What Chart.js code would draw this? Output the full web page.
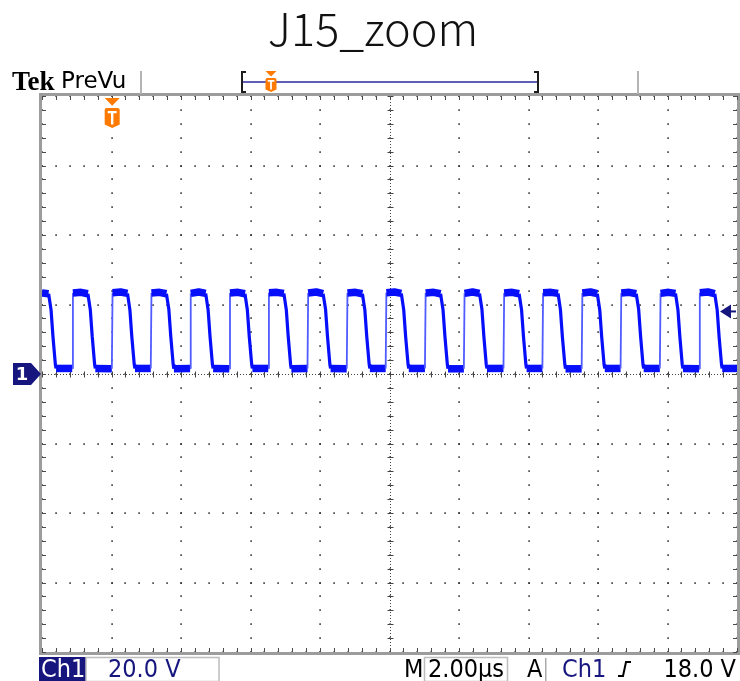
<!DOCTYPE html>
<html>
<head>
<meta charset="utf-8">
<title>J15_zoom</title>
<script src="https://cdn.jsdelivr.net/npm/chart.js@4/dist/chart.umd.min.js"></script>
<style>
  html, body { margin: 0; padding: 0; background: #fff; }
  #scope { display: block; }
</style>
</head>
<body>
<canvas id="scope" width="740" height="681"></canvas>
<script>

// graticule: 10 x 2.00us, 8 x 20.0V
let xTicks = [0, 2, 4, 6, 8, 10, 12, 14, 16, 18, 20];
let yTicks = [-80, -60, -40, -20, 0, 20, 40, 60, 80];

let voltsPerDiv = 20.0;
let timePerDiv = 2.00;
let triggerLevel = 18.0;
let triggerTime = 2.02;

// trace vertices (us / V)
let traceTime = [
  0.00, 0.19, 0.26, 0.315, 0.385, 0.405,
  0.87, 0.89, 1.12, 1.32, 1.39, 1.445, 1.515, 1.535,
  2.01, 2.03, 2.26, 2.46, 2.53, 2.585, 2.655, 2.675,
  3.13, 3.15, 3.38, 3.58, 3.65, 3.705, 3.775, 3.795,
  4.26, 4.28, 4.51, 4.71, 4.78, 4.835, 4.905, 4.925,
  5.39, 5.41, 5.64, 5.84, 5.91, 5.965, 6.035, 6.055,
  6.51, 6.53, 6.76, 6.96, 7.03, 7.085, 7.155, 7.175,
  7.64, 7.66, 7.89, 8.09, 8.16, 8.215, 8.285, 8.305,
  8.77, 8.79, 9.02, 9.22, 9.29, 9.345, 9.415, 9.435,
  9.89, 9.91, 10.14, 10.34, 10.41, 10.465, 10.535, 10.555,
  11.02, 11.04, 11.27, 11.47, 11.54, 11.595, 11.665, 11.685,
  12.14, 12.16, 12.39, 12.59, 12.66, 12.715, 12.785, 12.805,
  13.28, 13.30, 13.53, 13.73, 13.80, 13.855, 13.925, 13.945,
  14.40, 14.42, 14.65, 14.85, 14.92, 14.975, 15.045, 15.065,
  15.53, 15.55, 15.78, 15.98, 16.05, 16.105, 16.175, 16.195,
  16.65, 16.67, 16.90, 17.10, 17.17, 17.225, 17.295, 17.315,
  17.78, 17.80, 18.03, 18.23, 18.30, 18.355, 18.425, 18.445,
  18.91, 18.93, 19.16, 19.36, 19.43, 19.485, 19.555, 19.575,
  20.00
];
let traceVolt = [
  23.3, 23.1, 18.5, 10.8, 2.7, 1.6,
  1.6, 23.3, 23.5, 23.1, 18.5, 10.8, 2.7, 1.6,
  1.5, 23.4, 23.6, 23.2, 18.4, 10.7, 2.7, 1.6,
  1.6, 23.3, 23.5, 23.1, 18.6, 10.9, 2.8, 1.5,
  1.6, 23.2, 23.6, 23.2, 18.5, 10.8, 2.7, 1.6,
  1.5, 23.3, 23.5, 23.1, 18.4, 10.7, 2.7, 1.6,
  1.6, 23.4, 23.5, 23.2, 18.5, 10.8, 2.6, 1.5,
  1.6, 23.3, 23.6, 23.1, 18.6, 10.9, 2.7, 1.6,
  1.5, 23.3, 23.5, 23.1, 18.5, 10.8, 2.8, 1.6,
  1.6, 23.4, 23.6, 23.2, 18.4, 10.7, 2.7, 1.6,
  1.6, 23.3, 23.5, 23.1, 18.5, 10.8, 2.7, 1.5,
  1.5, 23.2, 23.6, 23.2, 18.6, 10.9, 2.6, 1.6,
  1.6, 23.3, 23.5, 23.1, 18.5, 10.8, 2.7, 1.6,
  1.6, 23.4, 23.5, 23.2, 18.4, 10.7, 2.8, 1.5,
  1.5, 23.3, 23.6, 23.1, 18.5, 10.8, 2.7, 1.6,
  1.6, 23.3, 23.5, 23.1, 18.6, 10.9, 2.7, 1.6,
  1.6, 23.2, 23.5, 23.2, 18.5, 10.8, 2.6, 1.6,
  1.5, 23.4, 23.6, 23.1, 18.4, 10.7, 2.7, 1.6,
  1.6
];

// colours
let traceBlue = 'rgb(6,14,250)';
let edgeBlue = 'rgb(80,92,255)';
let navy = '#16167e';
let tekOrange = '#ff7a00';
let narrowFont = '"Liberation Sans Narrow", "DejaVu Sans Condensed", sans-serif';

let tracePoints = traceTime.map((t, i) => ({ x: t, y: traceVolt[i] }));

// ** Helpers

function slopeOf(ctx) {
  let dx = Math.abs(ctx.p1.x - ctx.p0.x) || 0.01;
  return Math.abs(ctx.p1.y - ctx.p0.y) / dx;
}

function tMarker(c, cx, top, w, h) {
  // little orange trigger flag: triangle + shield with a T
  c.fillStyle = tekOrange;
  c.beginPath();
  c.moveTo(cx - w / 2, top);
  c.lineTo(cx + w / 2, top);
  c.lineTo(cx, top + h * 0.26);
  c.closePath();
  c.fill();
  let sTop = top + h * 0.33;
  let sBot = top + h;
  c.beginPath();
  c.moveTo(cx - w / 2, sTop + 2);
  c.quadraticCurveTo(cx - w / 2, sTop, cx - w / 2 + 2, sTop);
  c.lineTo(cx + w / 2 - 2, sTop);
  c.quadraticCurveTo(cx + w / 2, sTop, cx + w / 2, sTop + 2);
  c.lineTo(cx + w / 2, sBot - h * 0.12);
  c.lineTo(cx, sBot);
  c.lineTo(cx - w / 2, sBot - h * 0.12);
  c.closePath();
  c.fill();
  c.strokeStyle = '#fff';
  c.lineWidth = Math.max(1.6, w * 0.16);
  c.beginPath();
  c.moveTo(cx - w * 0.3, sTop + h * 0.14);
  c.lineTo(cx + w * 0.3, sTop + h * 0.14);
  c.moveTo(cx, sTop + h * 0.14);
  c.lineTo(cx, sBot - h * 0.12);
  c.stroke();
}

let scopeDecor = {
  id: 'scopeDecor',
  beforeDatasetsDraw(chart) {
    let c = chart.ctx;
    let a = chart.chartArea;
    let xs = chart.scales.x;
    let ys = chart.scales.y;
    let minorX = timePerDiv / 5;
    let minorY = voltsPerDiv / 5;
    c.save();

    // dotted major lines
    c.fillStyle = '#333';
    xTicks.forEach(xv => {
      let px = Math.round(xs.getPixelForValue(xv));
      for (let yv = yTicks[0]; yv <= yTicks[yTicks.length - 1] + 0.01; yv += minorY) {
        c.fillRect(px - 0.7, Math.round(ys.getPixelForValue(yv)) - 0.7, 1.6, 1.6);
      }
    });
    yTicks.forEach(yv => {
      let py = Math.round(ys.getPixelForValue(yv));
      for (let xv = xTicks[0]; xv <= xTicks[xTicks.length - 1] + 0.01; xv += minorX) {
        c.fillRect(Math.round(xs.getPixelForValue(xv)) - 0.7, py - 0.7, 1.6, 1.6);
      }
    });

    // centre cross with ticks
    let cx = Math.round(xs.getPixelForValue(10)) + 0.5;
    let cy = Math.round(ys.getPixelForValue(0)) + 0.5;
    c.strokeStyle = '#444';
    c.lineWidth = 1;
    c.setLineDash([1, 2]);
    c.beginPath();
    c.moveTo(cx, a.top); c.lineTo(cx, a.bottom);
    c.moveTo(a.left, cy); c.lineTo(a.right, cy);
    c.stroke();
    c.setLineDash([]);
    c.strokeStyle = '#444';
    c.beginPath();
    for (let yv = -80; yv <= 80.01; yv += minorY) {
      let py = Math.round(ys.getPixelForValue(yv)) + 0.5;
      c.moveTo(cx - 3, py); c.lineTo(cx + 3, py);
    }
    for (let xv = 0; xv <= 20.01; xv += minorX) {
      let px = Math.round(xs.getPixelForValue(xv)) + 0.5;
      c.moveTo(px, cy - 3); c.lineTo(px, cy + 3);
    }
    c.stroke();

    // frame with inner ticks
    c.strokeStyle = '#9c9c9c';
    c.lineWidth = 3;
    c.strokeRect(a.left - 1.5, a.top - 1.5, a.right - a.left + 3, a.bottom - a.top + 3);
    c.strokeStyle = '#4a4a4a';
    c.lineWidth = 1;
    c.beginPath();
    for (let xv = 0; xv <= 20.01; xv += minorX) {
      let px = Math.round(xs.getPixelForValue(xv)) + 0.5;
      c.moveTo(px, a.top); c.lineTo(px, a.top + 4);
      c.moveTo(px, a.bottom); c.lineTo(px, a.bottom - 4);
    }
    for (let yv = -80; yv <= 80.01; yv += minorY) {
      let py = Math.round(ys.getPixelForValue(yv)) + 0.5;
      c.moveTo(a.left, py); c.lineTo(a.left + 4, py);
      c.moveTo(a.right, py); c.lineTo(a.right - 4, py);
    }
    c.stroke();
    c.restore();
  },
  afterDatasetsDraw(chart) {
    let c = chart.ctx;
    let a = chart.chartArea;
    let xs = chart.scales.x;
    let ys = chart.scales.y;
    c.save();

    // ground marker "1"
    let gy = ys.getPixelForValue(0);
    c.fillStyle = navy;
    c.beginPath();
    c.moveTo(13, gy - 11);
    c.lineTo(31, gy - 11);
    c.lineTo(a.left - 1, gy);
    c.lineTo(31, gy + 11);
    c.lineTo(13, gy + 11);
    c.closePath();
    c.fill();
    c.fillStyle = '#fff';
    c.font = 'bold 18px "DejaVu Sans", sans-serif';
    c.textAlign = 'center';
    c.textBaseline = 'middle';
    c.fillText('1', 22, gy + 1);

    // trigger position flag
    tMarker(c, xs.getPixelForValue(triggerTime), a.top + 2, 15, 30);

    // trigger level arrow
    let ly = ys.getPixelForValue(triggerLevel);
    c.fillStyle = navy;
    c.beginPath();
    c.moveTo(a.right - 17, ly);
    c.lineTo(a.right - 6, ly - 7);
    c.lineTo(a.right - 6, ly + 7);
    c.closePath();
    c.fill();
    c.strokeStyle = navy;
    c.lineWidth = 2;
    c.beginPath();
    c.moveTo(a.right - 7, ly); c.lineTo(a.right - 1, ly);
    c.stroke();

    // title
    c.fillStyle = '#111';
    c.font = '300 45px "Noto Sans CJK JP", "Noto Sans", sans-serif';
    c.textAlign = 'center';
    c.textBaseline = 'alphabetic';
    c.fillText('J15_zoom', 373, 46);

    // top bar
    c.textAlign = 'left';
    c.fillStyle = '#000';
    c.font = 'bold 27px "Liberation Serif", serif';
    c.fillText('Tek', 12, 90);
    c.font = '23px "DejaVu Sans", sans-serif';
    c.fillText('PreVu', 61, 88);
    c.fillStyle = '#b4b4b4';
    c.fillRect(140, 71, 2, a.top - 73);
    c.fillRect(637, 71, 2, a.top - 73);
    c.strokeStyle = '#1d1d1d';
    c.lineWidth = 2;
    c.beginPath();
    c.moveTo(246, 72); c.lineTo(242, 72); c.lineTo(242, 92); c.lineTo(246, 92);
    c.moveTo(534, 72); c.lineTo(538, 72); c.lineTo(538, 92); c.lineTo(534, 92);
    c.stroke();
    c.strokeStyle = '#2a2a9a';
    c.lineWidth = 1.5;
    c.beginPath();
    c.moveTo(243, 82); c.lineTo(537, 82);
    c.stroke();
    tMarker(c, 271, 71, 11, 21);

    // status bar
    let sy = 677;
    c.fillStyle = navy;
    c.fillRect(39, 657, 47, 24);
    c.strokeStyle = '#bdbdbd';
    c.lineWidth = 1.5;
    c.strokeRect(86, 657.5, 133, 24);
    c.strokeRect(424.5, 657.5, 83, 24);
    c.fillStyle = '#aaa';
    c.fillRect(545, 658, 1.5, 23);
    c.font = '25px ' + narrowFont;
    c.fillStyle = '#fff';
    c.fillText('Ch1', 41, sy);
    c.fillStyle = navy;
    c.fillText(voltsPerDiv.toFixed(1) + ' V', 108, sy);
    c.fillText('Ch1', 562, sy);
    c.fillStyle = '#000';
    c.fillText('M', 404, sy);
    c.fillText(timePerDiv.toFixed(2) + '\u00b5s', 428, sy);
    c.fillText('A', 527, sy);
    c.textAlign = 'right';
    c.fillText(triggerLevel.toFixed(1) + ' V', 736, sy);
    // rising edge glyph
    c.strokeStyle = '#000';
    c.lineWidth = 2;
    c.beginPath();
    c.moveTo(618, 676); c.lineTo(623, 676); c.lineTo(626, 662); c.lineTo(631, 662);
    c.stroke();
    c.restore();
  }
};

// ** Chart

let scopeChart = new Chart(document.getElementById('scope'), {
  type: 'line',
  data: {
    datasets: [{
      label: 'Ch1',
      data: tracePoints,
      borderColor: traceBlue,
      borderWidth: 7,
      pointRadius: 0,
      tension: 0,
      borderJoinStyle: 'bevel',
      borderCapStyle: 'butt',
      segment: {
        borderWidth: ctx => {
          let s = slopeOf(ctx);
          if (s < 1) return 7.5;
          if (s < 20) return 3.2;
          return 1.8;
        },
        borderColor: ctx => slopeOf(ctx) < 20 ? traceBlue : edgeBlue
      }
    }]
  },
  options: {
    responsive: false,
    animation: false,
    layout: { padding: { left: 42, top: 96, right: 3, bottom: 29 } },
    scales: {
      x: { type: 'linear', min: 0, max: 20, display: false },
      y: { type: 'linear', min: -80, max: 80, display: false }
    },
    plugins: {
      legend: { display: false },
      tooltip: { enabled: false },
      title: { display: false }
    }
  },
  plugins: [scopeDecor]
});
</script>
</body>
</html>
